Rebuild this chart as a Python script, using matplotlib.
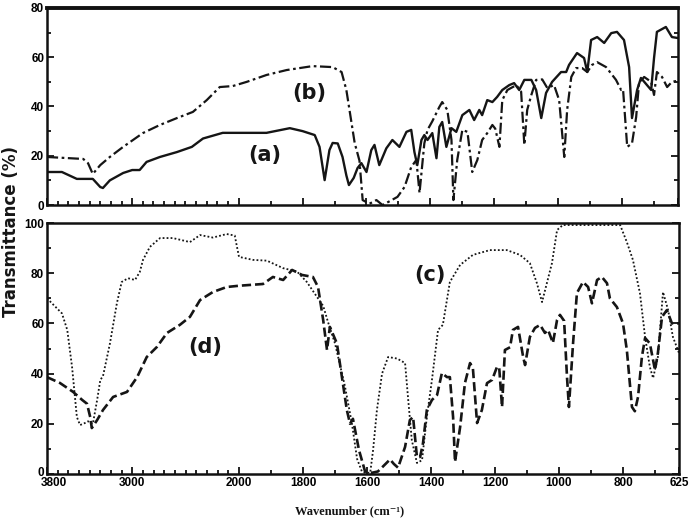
import numpy as np
import matplotlib
matplotlib.use("Agg")
import matplotlib.pyplot as plt
from matplotlib.ticker import FixedLocator
from matplotlib.transforms import ScaledTranslation

# ---- data (wavenumber cm-1, transmittance %) ----
a_wn = [3800, 3660, 3520, 3370, 3300, 3275, 3210, 3085, 3000, 2930, 2865, 2740, 2580, 2440,
        2335, 2150, 2000, 1913, 1840, 1800, 1762, 1747, 1731, 1716, 1706, 1690, 1675, 1663,
        1655, 1640, 1628, 1616, 1600, 1585, 1575, 1560, 1538, 1519, 1497, 1475, 1460, 1450,
        1441, 1428, 1419, 1409, 1394, 1381, 1372, 1363, 1350, 1334, 1319, 1300, 1278, 1263,
        1247, 1238, 1222, 1206, 1191, 1175, 1153, 1138, 1122, 1106, 1084, 1069, 1053, 1038,
        1019, 991, 975, 966, 941, 919, 909, 897, 878, 856, 834, 816, 794, 778, 769, 753, 741,
        709, 700, 691, 663, 644, 625]
a_t = [13.4, 13.4, 10.6, 10.6, 7.3, 6.9, 10, 13, 14.2, 14.2, 17.5, 19.5, 21.5, 23.6,
       27, 29.3, 29.3, 29.3, 31.2, 30, 28.4, 23.6, 10.1, 22.3, 25.2, 25, 19.5, 12,
       8.1, 11, 15, 17, 13.4, 22.3, 24.4, 16.2, 23, 26.4, 23.6, 29.7, 30.5, 21.5,
       16.2, 26.4, 28.4, 26.4, 29.2, 19, 31.7, 33.7, 23.6, 31.2, 29.7, 36.5, 38.6, 34.5,
       38.6, 36.5, 42.6, 41.8, 43.9, 46.7, 48.7, 49.5, 46.7, 50.8, 50.8, 46.7, 35.3, 45.5,
       50, 54, 54, 56.9, 61.7, 59.7, 54, 67, 68.2, 65.8, 69.8, 70.3, 67, 56, 35.3, 46.7, 51.6,
       46.7, 59.7, 70.3, 72.3, 68.2, 67.8]

b_wn = [3800, 3460, 3415, 3370, 3300, 3210, 3085, 2900, 2740, 2580, 2430, 2300, 2178, 2056,
        1975, 1913, 1850, 1769, 1706, 1678, 1663, 1637, 1622, 1612, 1591, 1569, 1550, 1528,
        1503, 1481, 1460, 1444, 1434, 1419, 1409, 1394, 1372, 1363, 1347, 1334, 1328, 1316,
        1300, 1284, 1269, 1253, 1238, 1222, 1206, 1197, 1184, 1175, 1159, 1131, 1116, 1106,
        1097, 1084, 1069, 1050, 1034, 1013, 997, 981, 972, 959, 944, 925, 909, 894, 878, 850,
        819, 803, 797, 784, 769, 756, 747, 731, 709, 700, 691, 675, 659, 644, 625]
b_t = [19.5, 18.7, 17, 12.6, 16.2, 19.5, 23.6, 29.2, 32.5, 35.3, 37.8, 42.6, 47.9, 48.3,
       50, 52.8, 54.8, 56.4, 56, 54, 46.7, 25.2, 18, 2, 0.5, 2, 0, 1.5,
       3.3, 7.3, 15.4, 18.3, 4.9, 25, 30.5, 34, 39.8, 41.8, 38.6, 26.4, 2, 18.3,
       30.5, 29.7, 13.4, 18.3, 26.4, 29.2, 32.5, 31, 23.6, 42.6, 46.7, 48.7, 46, 24.4,
       38.6, 44.7, 50.8, 51, 47.5, 48.7, 42.6, 19.5, 38.6, 52, 55.6, 55.6, 54, 56.9, 58, 56,
       50.8, 46.7, 47, 23.6, 25, 35.7, 49.5, 52, 50, 44.7, 54, 52, 47.9, 50, 50.5]

c_wn = [3800, 3660, 3610, 3565, 3520, 3490, 3445, 3415, 3370, 3330, 3300, 3275, 3210, 3145,
        3100, 3040, 2975, 2930, 2900, 2835, 2740, 2620, 2460, 2365, 2245, 2115, 2040, 2000,
        1956, 1913, 1862, 1819, 1788, 1756, 1737, 1722, 1700, 1669, 1647, 1631, 1616, 1606,
        1590, 1581, 1569, 1553, 1534, 1506, 1481, 1472, 1460, 1444, 1428, 1413, 1397, 1378,
        1363, 1341, 1309, 1269, 1216, 1163, 1122, 1091, 1069, 1053, 1038, 1022, 1006, 988,
        809, 788, 769, 747, 731, 716, 706, 691, 675, 659, 644, 625]
c_t = [70, 64, 57.4, 42.6, 22.7, 19.5, 20.3, 21, 20, 29.5, 37.5, 39, 52, 68,
       76.5, 78, 77.3, 80.5, 85.3, 90.5, 94, 94, 92.4, 95.2, 94.2, 95.6, 95, 86.5,
       85.3, 85, 82, 80.7, 76.5, 70.5, 67, 60.6, 52, 35, 20, 6, 1, 0.5,
       0.5, 9.5, 25.5, 40, 46.6, 46, 44.2, 30.7, 13.5, 4.4, 5.5, 22.7, 37.5, 57.4,
       59.4, 76.5, 83.3, 87.3, 89.2, 89.2, 87.3, 84, 76, 68.5, 76, 84, 97.2, 99.2,
       99.2, 92.4, 85.3, 72, 54.6, 42.6, 38.2, 46.6, 72.5, 65.3, 54.6, 48.2]

d_wn = [3800, 3680, 3555, 3470, 3425, 3395, 3380, 3330, 3275, 3180, 3050, 2955, 2865, 2770,
        2675, 2555, 2460, 2365, 2245, 2115, 2000, 1925, 1894, 1862, 1834, 1803, 1769, 1753,
        1737, 1725, 1716, 1694, 1663, 1653, 1644, 1625, 1606, 1584, 1566, 1550, 1528, 1516,
        1503, 1481, 1466, 1456, 1444, 1434, 1425, 1413, 1397, 1381, 1366, 1350, 1341, 1331,
        1325, 1309, 1294, 1278, 1269, 1256, 1241, 1225, 1209, 1194, 1187, 1178, 1169, 1153,
        1144, 1128, 1112, 1106, 1091, 1075, 1059, 1044, 1034, 1019, 1006, 997, 984, 975, 969,
        956, 944, 925, 909, 897, 881, 866, 850, 841, 819, 800, 788, 772, 763, 753, 741, 731,
        716, 700, 691, 678, 663, 647, 625]
d_t = [38.6, 36.3, 32.7, 29.5, 28, 22.7, 18.3, 21.5, 25.5, 30.7, 32.7, 38.6, 46.6, 50.6,
       56.2, 59.4, 62.6, 69.3, 72.5, 74.5, 75, 75.7, 78.5, 77.3, 81.3, 79.3, 78.5, 74.5,
       61.4, 49.4, 58.6, 52, 25.5, 20, 22, 9.5, 1, 0.5, 1, 3, 5.8, 4,
       2.5, 10.8, 21.5, 22.7, 6.8, 6.8, 12.3, 25.5, 29.5, 31.5, 40.2, 38.6, 38.6, 22.7,
       4.8, 18.7, 36.2, 44.2, 42, 20.3, 25.5, 36.2, 37.5, 42.6, 42.6, 26.7, 49.4, 50.5,
       57.4, 58.6, 46.6, 43.4, 54.6, 58.2, 59.4, 56.2, 57.4, 52.2, 61.4, 63.4, 61, 38.6, 26.7,
       52.2, 72.1, 76.5, 74.5, 68, 77.3, 78.5, 76, 70, 66.5, 60, 49.4, 26.7, 25, 30.7, 46.6, 54.2,
       52, 41.4, 48.2, 62.6, 65.3, 60, 60]

x_major = [3800, 3000, 2000, 1800, 1600, 1400, 1200, 1000, 800, 625]
x_minor = list(range(3700, 2000, -100)) + [1900, 1700, 1500, 1300, 1100, 900, 700]

# IR chart paper: scale expands 3x below 2000 cm-1
BRK_WN = [625, 2000, 3800]
BRK_POS = [0, 440, 632]


def fwd(x):
    return np.interp(x, BRK_WN, BRK_POS)


def inv(p):
    return np.interp(p, BRK_POS, BRK_WN)


plt.rcParams["font.family"] = ["Liberation Sans", "DejaVu Sans"]

fig = plt.figure(figsize=(6.9, 5.21), dpi=100)
ax1 = fig.add_axes([47 / 690, 1 - 205 / 521, 631 / 690, 197 / 521])
ax2 = fig.add_axes([47 / 690, 1 - 474 / 521, 632 / 690, 251 / 521])

for ax in (ax1, ax2):
    ax.set_xscale("function", functions=(fwd, inv))
    ax.set_xlim(3800, 625)
    ax.xaxis.set_major_locator(FixedLocator(x_major))
    ax.xaxis.set_minor_locator(FixedLocator(x_minor))
    ax.tick_params(which="both", direction="in", right=True, top=False, width=1.3, color="#111111")
    ax.tick_params(which="major", length=5)
    ax.tick_params(which="minor", length=3)
    ax.tick_params(axis="both", labelsize=8.5, pad=2)
    for s in ax.spines.values():
        s.set_linewidth(1.8)
        s.set_color("#111111")

ax1.spines["top"].set_linewidth(2.8)
ax1.set_ylim(0, 80)
ax1.set_yticks([0, 20, 40, 60, 80])
ax1.set_yticks(range(10, 80, 20), minor=True)
ax1.tick_params(axis="x", labelbottom=False)

ax2.set_ylim(0, 100)
ax2.set_yticks([0, 20, 40, 60, 80, 100])
ax2.set_yticks(range(10, 100, 20), minor=True)

for ax in (ax1, ax2):
    for lab in ax.get_xticklabels() + ax.get_yticklabels():
        lab.set_fontweight("bold")

# nudge corner labels apart, as on the original chart
lab3800 = ax2.xaxis.get_major_ticks()[0].label1
lab3800.set_transform(lab3800.get_transform() + ScaledTranslation(0.07, 0, fig.dpi_scale_trans))
lab0 = ax2.yaxis.get_major_ticks()[0].label1
lab0.set_transform(lab0.get_transform() + ScaledTranslation(0, 0.03, fig.dpi_scale_trans))

ink = "#151515"
ax1.plot(a_wn, a_t, color=ink, lw=1.7, ls="-")
ax1.plot(b_wn, b_t, color=ink, lw=1.6, ls=(0, (5, 1.6, 1.2, 1.6)))
ax2.plot(c_wn, c_t, color=ink, lw=1.3, ls=(0, (1, 1.2)))
ax2.plot(d_wn, d_t, color=ink, lw=1.9, ls=(0, (3.5, 1.5)))

lab_kw = dict(fontsize=15, fontweight="bold", family="DejaVu Sans", ha="center", va="center", color=ink)
ax1.text(1778, 45.5, "(b)", **lab_kw)
ax1.text(1919, 20.3, "(a)", **lab_kw)
ax2.text(1403, 79.3, "(c)", **lab_kw)
ax2.text(2321, 50.6, "(d)", **lab_kw)

fig.text(11 / 690, 1 - 232 / 521, "Transmittance (%)", rotation=90, ha="center", va="center",
         fontsize=12, fontweight="bold", family="DejaVu Sans", color=ink)
fig.text(350 / 690, 1 - 511 / 521, "Wavenumber (cm\u207b\u00b9)", ha="center", va="center",
         fontsize=9, fontweight="bold", family=["Liberation Serif", "DejaVu Serif"], color=ink)

fig.savefig("out.png", dpi=100, facecolor="white")
